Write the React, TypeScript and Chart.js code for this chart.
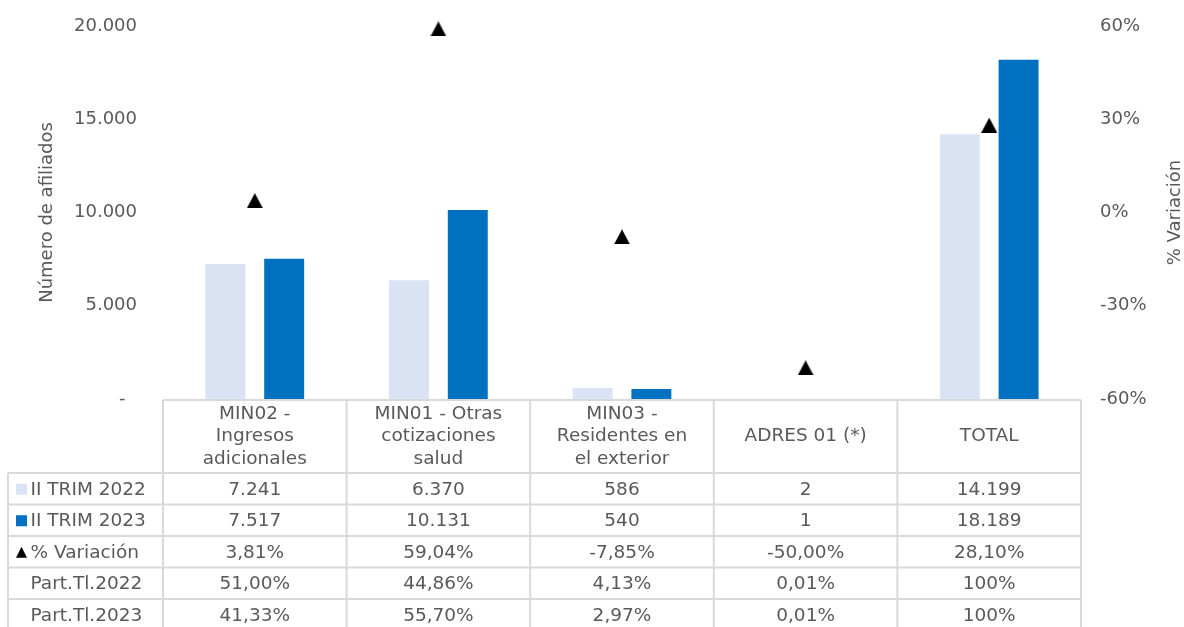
import React, { useEffect, useRef } from "react";
import { Chart, registerables } from "chart.js";

Chart.register(...registerables);

const categoryLines: string[][] = [
  ["MIN02 -", "Ingresos", "adicionales"],
  ["MIN01 - Otras", "cotizaciones", "salud"],
  ["MIN03 -", "Residentes en", "el exterior"],
  ["ADRES 01 (*)"],
  ["TOTAL"],
];
const categories = categoryLines.map((l) => l.join(" "));
const trim2022 = [7241, 6370, 586, 2, 14199];
const trim2023 = [7517, 10131, 540, 1, 18189];
const variacion = [3.81, 59.04, -7.85, -50.0, 28.1];
const part2022 = [51.0, 44.86, 4.13, 0.01, 100];
const part2023 = [41.33, 55.7, 2.97, 0.01, 100];

const seriesNames = ["II TRIM 2022", "II TRIM 2023", "% Variación", "Part.Tl.2022", "Part.Tl.2023"];
const leftTitle = "Número de afiliados";
const rightTitle = "% Variación";

const LIGHT = "#DAE3F3";
const DARK = "#0070C0";
const TEXT = "#595959";
const BORDER = "#D9D9D9";
const FONT = "'DejaVu Sans', Verdana, sans-serif";

const fmtInt = (v: number) => Math.round(v).toString().replace(/\B(?=(\d{3})+(?!\d))/g, ".");
const fmtPct = (v: number) => (v === 100 ? "100%" : v.toFixed(2).replace(".", ",") + "%");

function makeTriangle(): HTMLCanvasElement {
  const c = document.createElement("canvas");
  c.width = 16;
  c.height = 15;
  const g = c.getContext("2d")!;
  g.fillStyle = "#000";
  g.beginPath();
  g.moveTo(8, 0);
  g.lineTo(16, 15);
  g.lineTo(0, 15);
  g.closePath();
  g.fill();
  return c;
}

const tablePlugin = {
  id: "dataTable",
  afterDraw(chart: any) {
    const ctx = chart.ctx as CanvasRenderingContext2D;
    const xs = chart.scales.x;
    const area = chart.chartArea;
    const n = categories.length;
    const cw = (area.right - area.left) / n;
    const top = area.bottom + 1;
    const headerH = 73;
    const rowH = 31.5;
    const labelLeft = 8;
    const rows = [
      trim2022.map(fmtInt),
      trim2023.map(fmtInt),
      variacion.map(fmtPct),
      part2022.map(fmtPct),
      part2023.map(fmtPct),
    ];
    const tableBottom = top + headerH + rowH * rows.length;

    ctx.save();
    ctx.strokeStyle = BORDER;
    ctx.lineWidth = 2;
    ctx.beginPath();
    ctx.moveTo(area.left, top);
    ctx.lineTo(area.right, top);
    for (let i = 0; i <= n; i++) {
      const x = area.left + cw * i;
      ctx.moveTo(x, top);
      ctx.lineTo(x, tableBottom);
    }
    ctx.moveTo(labelLeft, top + headerH);
    ctx.lineTo(labelLeft, tableBottom);
    for (let r = 0; r <= rows.length; r++) {
      const y = top + headerH + rowH * r;
      ctx.moveTo(labelLeft, y);
      ctx.lineTo(area.right, y);
    }
    ctx.stroke();

    ctx.fillStyle = TEXT;
    ctx.font = `18.5px ${FONT}`;
    ctx.textAlign = "center";
    ctx.textBaseline = "middle";
    for (let i = 0; i < n; i++) {
      const cx = xs.getPixelForValue(i);
      const lines = categoryLines[i];
      const lh = 22.5;
      const cy = top + headerH / 2;
      lines.forEach((t, k) => {
        ctx.fillText(t, cx, cy + (k - (lines.length - 1) / 2) * lh);
      });
    }
    rows.forEach((vals, r) => {
      const cy = top + headerH + rowH * (r + 0.5) + 1;
      vals.forEach((t, i) => {
        ctx.fillText(t, xs.getPixelForValue(i), cy);
      });
      ctx.textAlign = "left";
      ctx.fillText(seriesNames[r], 30.5, cy);
      ctx.textAlign = "center";
      if (r === 0 || r === 1) {
        ctx.fillStyle = r === 0 ? LIGHT : DARK;
        ctx.fillRect(16, cy - 6, 11, 11);
        ctx.fillStyle = TEXT;
      } else if (r === 2) {
        ctx.fillStyle = "#000";
        ctx.beginPath();
        ctx.moveTo(21.5, cy - 6);
        ctx.lineTo(27, cy + 5);
        ctx.lineTo(16, cy + 5);
        ctx.closePath();
        ctx.fill();
        ctx.fillStyle = TEXT;
      }
    });

    ctx.font = `18px ${FONT}`;
    const midY = (area.top + area.bottom) / 2;
    ctx.save();
    ctx.translate(47, midY);
    ctx.rotate(-Math.PI / 2);
    ctx.textAlign = "center";
    ctx.textBaseline = "middle";
    ctx.fillText(leftTitle, 0, 0);
    ctx.restore();
    ctx.save();
    ctx.translate(1175, midY);
    ctx.rotate(-Math.PI / 2);
    ctx.textAlign = "center";
    ctx.textBaseline = "middle";
    ctx.fillText(rightTitle, 0, 0);
    ctx.restore();
    ctx.restore();
  },
};

export default function App() {
  const ref = useRef<HTMLCanvasElement | null>(null);
  useEffect(() => {
    document.body.style.margin = "0";
    const canvas = ref.current!;
    Chart.defaults.font.family = FONT;
    Chart.defaults.font.size = 18;
    Chart.defaults.color = TEXT;
    const tri = makeTriangle();
    const chart = new Chart(canvas, {
      type: "bar",
      data: {
        labels: categories,
        datasets: [
          {
            type: "line",
            label: seriesNames[2],
            data: variacion,
            yAxisID: "y1",
            showLine: false,
            clip: false,
            pointStyle: tri,
            pointRadius: 8,
            pointBackgroundColor: "#000",
            pointBorderColor: "#000",
            pointBorderWidth: 0,
            order: 0,
          } as any,
          {
            label: seriesNames[0],
            data: trim2022,
            backgroundColor: LIGHT,
            yAxisID: "y",
            categoryPercentage: 0.64,
            barPercentage: 0.68,
            order: 1,
          },
          {
            label: seriesNames[1],
            data: trim2023,
            backgroundColor: DARK,
            yAxisID: "y",
            categoryPercentage: 0.64,
            barPercentage: 0.68,
            order: 1,
          },
        ],
      },
      options: {
        responsive: false,
        animation: false,
        layout: { padding: { top: 26, bottom: 228, left: 0, right: 0 } },
        plugins: { legend: { display: false }, tooltip: { enabled: false } },
        scales: {
          x: { display: false, offset: true },
          y: {
            position: "left",
            min: 0,
            max: 20000,
            border: { display: false },
            grid: { display: false, drawTicks: false },
            ticks: {
              stepSize: 5000,
              padding: 26,
              color: TEXT,
              font: { size: 18, family: FONT },
              callback: (v: any) => (Number(v) === 0 ? "-  " : fmtInt(Number(v))),
            },
            afterFit: (s: any) => {
              s.width = 163;
              s.paddingTop = 0;
              s.paddingBottom = 0;
            },
          },
          y1: {
            position: "right",
            min: -60,
            max: 60,
            border: { display: false },
            grid: { display: false, drawTicks: false },
            ticks: {
              stepSize: 30,
              padding: 19,
              color: TEXT,
              font: { size: 18, family: FONT },
              callback: (v: any) => `${v}%`,
            },
            afterFit: (s: any) => {
              s.width = 103;
              s.paddingTop = 0;
              s.paddingBottom = 0;
            },
          },
        },
      },
      plugins: [tablePlugin],
    });
    return () => chart.destroy();
  }, []);
  return <canvas ref={ref} width={1184} height={627} style={{ display: "block" }} />;
}
